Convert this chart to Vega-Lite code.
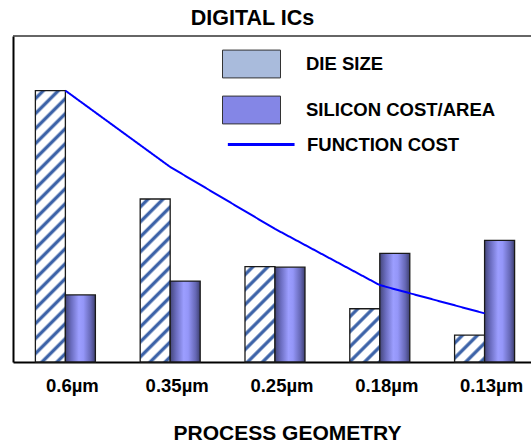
{
"$schema": "https://vega.github.io/schema/vega-lite/v6.json",
"autosize": "none",
"width": 518,
"height": 326,
"padding": {"left": 13, "top": 36, "right": 0, "bottom": 83},
"background": "#ffffff",
"config": {"view": {"stroke": null}, "font": "Liberation Sans"},
"title": {"text": "DIGITAL ICs", "font": "Liberation Sans", "fontSize": 21.5, "fontWeight": "bold", "color": "#000000", "dx": -19.5, "dy": 22.5, "offset": 11, "baseline": "alphabetic"},
"data": {"values": [
{"geometry": "0.6µm", "series": "DIE SIZE", "value": 99.9},
{"geometry": "0.35µm", "series": "DIE SIZE", "value": 60},
{"geometry": "0.25µm", "series": "DIE SIZE", "value": 35.1},
{"geometry": "0.18µm", "series": "DIE SIZE", "value": 19.6},
{"geometry": "0.13µm", "series": "DIE SIZE", "value": 9.9},
{"geometry": "0.6µm", "series": "SILICON COST/AREA", "value": 24.7},
{"geometry": "0.35µm", "series": "SILICON COST/AREA", "value": 29.8},
{"geometry": "0.25µm", "series": "SILICON COST/AREA", "value": 34.9},
{"geometry": "0.18µm", "series": "SILICON COST/AREA", "value": 40},
{"geometry": "0.13µm", "series": "SILICON COST/AREA", "value": 44.8},
{"geometry": "0.6µm", "series": "FUNCTION COST", "value": 99.9},
{"geometry": "0.35µm", "series": "FUNCTION COST", "value": 71.8},
{"geometry": "0.25µm", "series": "FUNCTION COST", "value": 49},
{"geometry": "0.18µm", "series": "FUNCTION COST", "value": 28.3},
{"geometry": "0.13µm", "series": "FUNCTION COST", "value": 17.9}
]},
"layer": [
  {"transform": [{"filter": "datum.series !== 'FUNCTION COST'"}],
   "mark": {"type": "bar", "stroke": "#1a1a1a", "strokeWidth": 1.3},
   "encoding": {
     "x": {"field": "geometry", "type": "nominal",
        "scale": {"domain": ["0.6µm", "0.35µm", "0.25µm", "0.18µm", "0.13µm"], "paddingInner": 0.4275, "paddingOuter": 0.1851, "align": 0.577},
        "axis": {"title": "PROCESS GEOMETRY", "labelFont": "Liberation Sans", "labelFontSize": 18.5, "labelFontWeight": "bold", "labelColor": "#000000", "labelAngle": 0, "ticks": false, "tickSize": 0, "labelPadding": 29, "labelBaseline": "alphabetic", "labelOffset": 7, "domainColor": "#000000", "domainWidth": 2, "titleFont": "Liberation Sans", "titleFontSize": 21, "titleFontWeight": "bold", "titleColor": "#000000", "titleX": 274, "titleY": 77, "titleBaseline": "alphabetic", "grid": false}},
     "y": {"field": "value", "type": "quantitative", "scale": {"domain": [0, 120], "nice": false},
        "axis": {"labels": false, "ticks": false, "title": null, "grid": false, "domainColor": "#000000", "domainWidth": 2}},
     "xOffset": {"field": "series", "type": "nominal", "scale": {"domain": ["DIE SIZE", "SILICON COST/AREA"], "paddingInner": 0, "paddingOuter": 0}},
     "fill": {"condition": [
       {"test": "datum.series === 'SILICON COST/AREA'", "value": {"gradient": "linear", "x1": 0, "y1": 0, "x2": 1, "y2": 0, "stops": [{"offset": 0, "color": "#44467a"}, {"offset": 0.2, "color": "#6b6dc0"}, {"offset": 0.45, "color": "#9c9eff"}, {"offset": 0.6, "color": "#9496f8"}, {"offset": 0.85, "color": "#6567b5"}, {"offset": 1, "color": "#3e4072"}]}},
       {"test": "datum.geometry === '0.6µm'", "value": {"gradient": "linear", "x1": 0, "y1": 0, "x2": 0.1213, "y2": 1.0971, "stops": [
{"offset":0.0149,"color":"#ffffff"},{"offset":0.0226,"color":"#3d63a8"},{"offset":0.0305,"color":"#3d63a8"},{"offset":0.0381,"color":"#ffffff"},
{"offset":0.0647,"color":"#ffffff"},{"offset":0.0723,"color":"#3d63a8"},{"offset":0.0803,"color":"#3d63a8"},{"offset":0.0879,"color":"#ffffff"},
{"offset":0.1145,"color":"#ffffff"},{"offset":0.1221,"color":"#3d63a8"},{"offset":0.1301,"color":"#3d63a8"},{"offset":0.1377,"color":"#ffffff"},
{"offset":0.1642,"color":"#ffffff"},{"offset":0.1719,"color":"#3d63a8"},{"offset":0.1798,"color":"#3d63a8"},{"offset":0.1875,"color":"#ffffff"},
{"offset":0.2140,"color":"#ffffff"},{"offset":0.2216,"color":"#3d63a8"},{"offset":0.2296,"color":"#3d63a8"},{"offset":0.2372,"color":"#ffffff"},
{"offset":0.2638,"color":"#ffffff"},{"offset":0.2714,"color":"#3d63a8"},{"offset":0.2794,"color":"#3d63a8"},{"offset":0.2870,"color":"#ffffff"},
{"offset":0.3135,"color":"#ffffff"},{"offset":0.3212,"color":"#3d63a8"},{"offset":0.3291,"color":"#3d63a8"},{"offset":0.3368,"color":"#ffffff"},
{"offset":0.3633,"color":"#ffffff"},{"offset":0.3709,"color":"#3d63a8"},{"offset":0.3789,"color":"#3d63a8"},{"offset":0.3865,"color":"#ffffff"},
{"offset":0.4131,"color":"#ffffff"},{"offset":0.4207,"color":"#3d63a8"},{"offset":0.4287,"color":"#3d63a8"},{"offset":0.4363,"color":"#ffffff"},
{"offset":0.4628,"color":"#ffffff"},{"offset":0.4705,"color":"#3d63a8"},{"offset":0.4784,"color":"#3d63a8"},{"offset":0.4861,"color":"#ffffff"},
{"offset":0.5126,"color":"#ffffff"},{"offset":0.5202,"color":"#3d63a8"},{"offset":0.5282,"color":"#3d63a8"},{"offset":0.5358,"color":"#ffffff"},
{"offset":0.5624,"color":"#ffffff"},{"offset":0.5700,"color":"#3d63a8"},{"offset":0.5780,"color":"#3d63a8"},{"offset":0.5856,"color":"#ffffff"},
{"offset":0.6121,"color":"#ffffff"},{"offset":0.6198,"color":"#3d63a8"},{"offset":0.6277,"color":"#3d63a8"},{"offset":0.6354,"color":"#ffffff"},
{"offset":0.6619,"color":"#ffffff"},{"offset":0.6695,"color":"#3d63a8"},{"offset":0.6775,"color":"#3d63a8"},{"offset":0.6851,"color":"#ffffff"},
{"offset":0.7117,"color":"#ffffff"},{"offset":0.7193,"color":"#3d63a8"},{"offset":0.7273,"color":"#3d63a8"},{"offset":0.7349,"color":"#ffffff"},
{"offset":0.7615,"color":"#ffffff"},{"offset":0.7691,"color":"#3d63a8"},{"offset":0.7770,"color":"#3d63a8"},{"offset":0.7847,"color":"#ffffff"},
{"offset":0.8112,"color":"#ffffff"},{"offset":0.8188,"color":"#3d63a8"},{"offset":0.8268,"color":"#3d63a8"},{"offset":0.8344,"color":"#ffffff"},
{"offset":0.8610,"color":"#ffffff"},{"offset":0.8686,"color":"#3d63a8"},{"offset":0.8766,"color":"#3d63a8"},{"offset":0.8842,"color":"#ffffff"},
{"offset":0.9108,"color":"#ffffff"},{"offset":0.9184,"color":"#3d63a8"},{"offset":0.9263,"color":"#3d63a8"},{"offset":0.9340,"color":"#ffffff"},
{"offset":0.9605,"color":"#ffffff"},{"offset":0.9682,"color":"#3d63a8"},{"offset":0.9761,"color":"#3d63a8"},{"offset":0.9837,"color":"#ffffff"}
]}},
       {"test": "datum.geometry === '0.35µm'", "value": {"gradient": "linear", "x1": 0, "y1": 0, "x2": 0.2108, "y2": 1.1452, "stops": [
{"offset":0.0233,"color":"#ffffff"},{"offset":0.0352,"color":"#3d63a8"},{"offset":0.0477,"color":"#3d63a8"},{"offset":0.0596,"color":"#ffffff"},
{"offset":0.1010,"color":"#ffffff"},{"offset":0.1130,"color":"#3d63a8"},{"offset":0.1254,"color":"#3d63a8"},{"offset":0.1373,"color":"#ffffff"},
{"offset":0.1788,"color":"#ffffff"},{"offset":0.1907,"color":"#3d63a8"},{"offset":0.2031,"color":"#3d63a8"},{"offset":0.2150,"color":"#ffffff"},
{"offset":0.2565,"color":"#ffffff"},{"offset":0.2684,"color":"#3d63a8"},{"offset":0.2808,"color":"#3d63a8"},{"offset":0.2927,"color":"#ffffff"},
{"offset":0.3342,"color":"#ffffff"},{"offset":0.3461,"color":"#3d63a8"},{"offset":0.3585,"color":"#3d63a8"},{"offset":0.3705,"color":"#ffffff"},
{"offset":0.4119,"color":"#ffffff"},{"offset":0.4238,"color":"#3d63a8"},{"offset":0.4363,"color":"#3d63a8"},{"offset":0.4482,"color":"#ffffff"},
{"offset":0.4896,"color":"#ffffff"},{"offset":0.5016,"color":"#3d63a8"},{"offset":0.5140,"color":"#3d63a8"},{"offset":0.5259,"color":"#ffffff"},
{"offset":0.5674,"color":"#ffffff"},{"offset":0.5793,"color":"#3d63a8"},{"offset":0.5917,"color":"#3d63a8"},{"offset":0.6036,"color":"#ffffff"},
{"offset":0.6451,"color":"#ffffff"},{"offset":0.6570,"color":"#3d63a8"},{"offset":0.6694,"color":"#3d63a8"},{"offset":0.6813,"color":"#ffffff"},
{"offset":0.7228,"color":"#ffffff"},{"offset":0.7347,"color":"#3d63a8"},{"offset":0.7471,"color":"#3d63a8"},{"offset":0.7591,"color":"#ffffff"},
{"offset":0.8005,"color":"#ffffff"},{"offset":0.8124,"color":"#3d63a8"},{"offset":0.8249,"color":"#3d63a8"},{"offset":0.8368,"color":"#ffffff"},
{"offset":0.8782,"color":"#ffffff"},{"offset":0.8902,"color":"#3d63a8"},{"offset":0.9026,"color":"#3d63a8"},{"offset":0.9145,"color":"#ffffff"},
{"offset":0.9560,"color":"#ffffff"},{"offset":0.9679,"color":"#3d63a8"},{"offset":0.9803,"color":"#3d63a8"},{"offset":0.9922,"color":"#ffffff"}
]}},
       {"test": "datum.geometry === '0.25µm'", "value": {"gradient": "linear", "x1": 0, "y1": 0, "x2": 0.3762, "y2": 1.1962, "stops": [
{"offset":0.0359,"color":"#ffffff"},{"offset":0.0542,"color":"#3d63a8"},{"offset":0.0734,"color":"#3d63a8"},{"offset":0.0917,"color":"#ffffff"},
{"offset":0.1555,"color":"#ffffff"},{"offset":0.1738,"color":"#3d63a8"},{"offset":0.1930,"color":"#3d63a8"},{"offset":0.2113,"color":"#ffffff"},
{"offset":0.2751,"color":"#ffffff"},{"offset":0.2935,"color":"#3d63a8"},{"offset":0.3126,"color":"#3d63a8"},{"offset":0.3309,"color":"#ffffff"},
{"offset":0.3947,"color":"#ffffff"},{"offset":0.4131,"color":"#3d63a8"},{"offset":0.4322,"color":"#3d63a8"},{"offset":0.4506,"color":"#ffffff"},
{"offset":0.5144,"color":"#ffffff"},{"offset":0.5327,"color":"#3d63a8"},{"offset":0.5518,"color":"#3d63a8"},{"offset":0.5702,"color":"#ffffff"},
{"offset":0.6340,"color":"#ffffff"},{"offset":0.6523,"color":"#3d63a8"},{"offset":0.6714,"color":"#3d63a8"},{"offset":0.6898,"color":"#ffffff"},
{"offset":0.7536,"color":"#ffffff"},{"offset":0.7719,"color":"#3d63a8"},{"offset":0.7911,"color":"#3d63a8"},{"offset":0.8094,"color":"#ffffff"},
{"offset":0.8732,"color":"#ffffff"},{"offset":0.8915,"color":"#3d63a8"},{"offset":0.9107,"color":"#3d63a8"},{"offset":0.9290,"color":"#ffffff"}
]}},
       {"test": "datum.geometry === '0.18µm'", "value": {"gradient": "linear", "x1": 0, "y1": 0, "x2": 0.6692, "y2": 1.1867, "stops": [
{"offset":0.0541,"color":"#ffffff"},{"offset":0.0817,"color":"#3d63a8"},{"offset":0.1106,"color":"#3d63a8"},{"offset":0.1382,"color":"#ffffff"},
{"offset":0.2344,"color":"#ffffff"},{"offset":0.2620,"color":"#3d63a8"},{"offset":0.2909,"color":"#3d63a8"},{"offset":0.3185,"color":"#ffffff"},
{"offset":0.4147,"color":"#ffffff"},{"offset":0.4423,"color":"#3d63a8"},{"offset":0.4712,"color":"#3d63a8"},{"offset":0.4988,"color":"#ffffff"},
{"offset":0.5950,"color":"#ffffff"},{"offset":0.6226,"color":"#3d63a8"},{"offset":0.6514,"color":"#3d63a8"},{"offset":0.6791,"color":"#ffffff"},
{"offset":0.7752,"color":"#ffffff"},{"offset":0.8029,"color":"#3d63a8"},{"offset":0.8317,"color":"#3d63a8"},{"offset":0.8594,"color":"#ffffff"},
{"offset":0.9555,"color":"#ffffff"},{"offset":0.9832,"color":"#3d63a8"},{"offset":1,"color":"#3d63a8"}
]}},
       {"test": "datum.geometry === '0.13µm'", "value": {"gradient": "linear", "x1": 0, "y1": 0, "x2": 1.0514, "y2": 0.9427, "stops": [
{"offset":0.0791,"color":"#ffffff"},{"offset":0.1195,"color":"#3d63a8"},{"offset":0.1617,"color":"#3d63a8"},{"offset":0.2021,"color":"#ffffff"},
{"offset":0.3427,"color":"#ffffff"},{"offset":0.3831,"color":"#3d63a8"},{"offset":0.4253,"color":"#3d63a8"},{"offset":0.4657,"color":"#ffffff"},
{"offset":0.6063,"color":"#ffffff"},{"offset":0.6468,"color":"#3d63a8"},{"offset":0.6889,"color":"#3d63a8"},{"offset":0.7294,"color":"#ffffff"},
{"offset":0.8699,"color":"#ffffff"},{"offset":0.9104,"color":"#3d63a8"},{"offset":0.9525,"color":"#3d63a8"},{"offset":0.9930,"color":"#ffffff"}
]}}
     ], "value": "#3d63a8"}
   }},
  {"transform": [{"filter": "datum.series !== 'FUNCTION COST'"}],
   "mark": {"type": "bar", "opacity": 0},
   "encoding": {
     "x": {"field": "geometry", "type": "nominal"},
     "y": {"field": "value", "type": "quantitative", "stack": null},
     "color": {"field": "series", "type": "nominal",
       "scale": {"domain": ["DIE SIZE", "SILICON COST/AREA"], "range": ["#a9bbdc", "#8486e6"]},
       "legend": {"orient": "none", "legendX": 209, "legendY": -1.5, "title": null, "padding": 0, "rowPadding": -5.5, "labelOffset": 25, "labelFont": "Liberation Sans", "labelFontSize": 18.5, "labelFontWeight": "bold", "labelColor": "#000000", "labelLimit": 400, "symbolType": "M-1,-0.48H1V0.48H-1Z", "symbolSize": 3364, "symbolStrokeColor": "#333333", "symbolStrokeWidth": 1, "symbolOpacity": 1}}
   }},
  {"transform": [{"filter": "datum.series === 'FUNCTION COST'"}],
   "mark": {"type": "line", "strokeWidth": 2, "color": "#0000ff"},
   "encoding": {
     "x": {"field": "geometry", "type": "nominal"},
     "y": {"field": "value", "type": "quantitative"},
     "strokeDash": {"field": "series", "type": "nominal", "scale": {"domain": ["FUNCTION COST"], "range": [[1, 0]]},
       "legend": {"orient": "none", "legendX": 209, "legendY": 78, "title": null, "padding": 0, "labelOffset": 24, "labelFont": "Liberation Sans", "labelFontSize": 18.5, "labelFontWeight": "bold", "labelColor": "#000000", "labelLimit": 400, "symbolType": "M-0.85,0H1.45", "symbolSize": 3364, "symbolStrokeColor": "#0000ff", "symbolStrokeWidth": 3}}
   }},
  {"data": {"values": [{"edge": "top"}]},
   "mark": {"type": "rule", "color": "#333333", "strokeWidth": 1.5},
   "encoding": {"y": {"datum": 120, "type": "quantitative"}}}
]
}
